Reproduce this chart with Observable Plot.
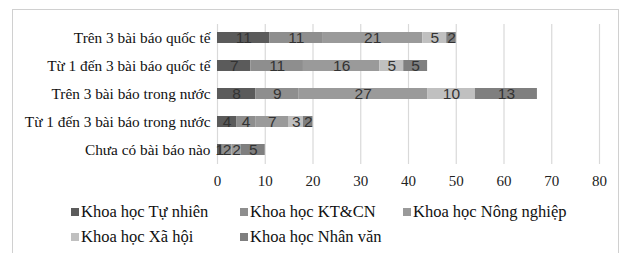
<!DOCTYPE html>
<html>
<head>
<meta charset="utf-8">
<script src="https://cdn.jsdelivr.net/npm/d3@7"></script>
<script src="https://cdn.jsdelivr.net/npm/@observablehq/plot@0.6"></script>
<style>
  html, body { margin: 0; padding: 0; background: #fff; }
  body { width: 624px; height: 253px; position: relative; overflow: hidden; }
  #frame { position: absolute; left: 12px; top: 9px; width: 607px; height: 270px; border: 1.5px solid #d0d0d0; box-sizing: border-box; }
  #chart { position: absolute; left: 0; top: 0; }
  .leg { position: absolute; font-family: "Liberation Serif", serif; font-size: 16.5px; color: #111; white-space: nowrap; line-height: 18px; }
  .leg span.sw { display: inline-block; width: 8px; height: 8px; margin-right: 2px; vertical-align: 1px; }
</style>
</head>
<body>
<div id="frame"></div>
<div id="chart"></div>
<div id="legend"></div>
<script>
const categories = [
  "Trên 3 bài báo quốc tế",
  "Từ 1 đến 3 bài báo quốc tế",
  "Trên 3 bài báo trong nước",
  "Từ 1 đến 3 bài báo trong nước",
  "Chưa có bài báo nào"
];
const seriesNames = [
  "Khoa học Tự nhiên",
  "Khoa học KT&CN",
  "Khoa học Nông nghiệp",
  "Khoa học Xã hội",
  "Khoa học Nhân văn"
];
const tuNhien    = [11, 7, 8, 4, 1];
const ktcn       = [11, 11, 9, 4, 2];
const nongNghiep = [21, 16, 27, 7, 2];
const xaHoi      = [5, 5, 10, 3, 0];
const nhanVan    = [2, 5, 13, 2, 5];
const xTicks = [0, 10, 20, 30, 40, 50, 60, 70, 80];
const colors = ["#5b5b5b", "#8e8e8e", "#9a9a9a", "#c0c0c0", "#7f7f7f"];

const seriesValues = [tuNhien, ktcn, nongNghiep, xaHoi, nhanVan];
const data = [];
seriesNames.forEach((s, si) => {
  categories.forEach((c, ci) => {
    data.push({cat: c, series: s, value: seriesValues[si][ci]});
  });
});

const chart = Plot.plot({
  width: 624,
  height: 200,
  marginLeft: 217,
  marginRight: 25,
  marginTop: 24,
  marginBottom: 36,
  style: {background: "transparent", overflow: "visible"},
  x: {domain: [0, 80], ticks: xTicks},
  y: {domain: categories, paddingInner: 0.6, paddingOuter: 0.3},
  color: {domain: seriesNames, range: colors},
  marks: [
    Plot.gridX(xTicks, {stroke: "#d9d9d9", strokeOpacity: 1, strokeWidth: 1.2}),
    Plot.barX(data, Plot.stackX({x: "value", y: "cat", fill: "series", z: "series"})),
    Plot.text(data, Plot.stackX({
      x: "value", y: "cat", z: "series",
      text: d => d.value > 0 ? String(d.value) : "",
      fill: "#333", fontSize: 15.5, fontFamily: "'Liberation Sans Narrow', 'Liberation Sans', sans-serif"
    })),
    Plot.axisX(xTicks, {tickSize: 0, tickPadding: 11, fontSize: 15, fontFamily: "'Liberation Serif', serif", fill: "#222", label: null}),
    Plot.axisY({tickSize: 0, tickPadding: 7, fontSize: 15.3, fontFamily: "'Liberation Serif', serif", fill: "#111", label: null})
  ]
});
document.getElementById("chart").appendChild(chart);

const legendPos = [[71, 203], [240, 203], [403, 203], [71, 228], [240, 228]];
const legend = document.getElementById("legend");
seriesNames.forEach((s, i) => {
  const d = document.createElement("div");
  d.className = "leg";
  d.style.left = legendPos[i][0] + "px";
  d.style.top = legendPos[i][1] + "px";
  const sw = document.createElement("span");
  sw.className = "sw";
  sw.style.background = colors[i];
  d.appendChild(sw);
  d.appendChild(document.createTextNode(s));
  legend.appendChild(d);
});
</script>
</body>
</html>
